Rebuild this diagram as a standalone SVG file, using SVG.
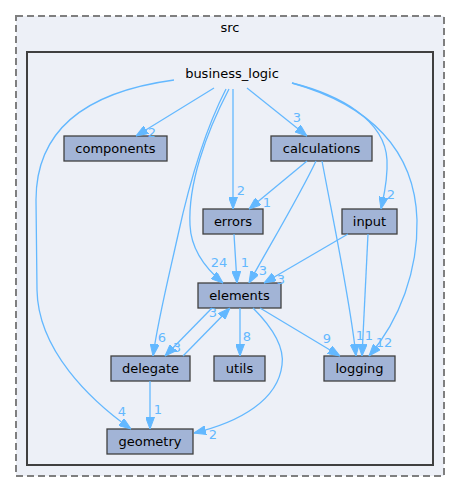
<svg xmlns="http://www.w3.org/2000/svg" width="461" height="492" viewBox="0 0 461 492">
<style>
text{font-family:"DejaVu Sans","Liberation Sans",sans-serif;font-size:13px;text-anchor:middle;fill:#000}
.node rect{fill:#a2b4d6;stroke:#404040;stroke-width:1.3}
.edges path{fill:none;stroke:#63b8ff;stroke-width:1.3;marker-end:url(#ah)}
.edges text{fill:#63b8ff}
</style>
<defs>
<marker id="ah" viewBox="0 0 12 9" refX="12" refY="4.5" markerWidth="12" markerHeight="9" markerUnits="userSpaceOnUse" orient="auto">
<path d="M0,0 L12,4.5 L0,9 z" fill="#63b8ff" stroke="#63b8ff" stroke-width="1"/>
</marker>
</defs>
<rect width="461" height="492" fill="#fff"/>
<g id="cluster_src">
<rect x="16" y="16" width="428" height="460" fill="#edf0f7" stroke="#7f7f7f" stroke-width="2" stroke-dasharray="7,4"/>
<text x="230" y="32">src</text>
</g>
<g id="cluster_business_logic">
<rect x="27" y="52" width="406" height="413" fill="#edf0f7" stroke="#404040" stroke-width="2"/>
<text x="232" y="78">business_logic</text>
</g>
<g id="components" class="node"><rect x="64" y="136" width="103" height="25"/><text x="115.5" y="153">components</text></g>
<g id="calculations" class="node"><rect x="271" y="136" width="101" height="25"/><text x="321.5" y="153">calculations</text></g>
<g id="errors" class="node"><rect x="203" y="209" width="60" height="25"/><text x="233" y="226">errors</text></g>
<g id="input" class="node"><rect x="342" y="209" width="55" height="25"/><text x="369.5" y="226">input</text></g>
<g id="elements" class="node"><rect x="198" y="283" width="83" height="25"/><text x="239.5" y="300">elements</text></g>
<g id="delegate" class="node"><rect x="111" y="356" width="79" height="25"/><text x="150.5" y="373">delegate</text></g>
<g id="utils" class="node"><rect x="214" y="356" width="51" height="25"/><text x="239.5" y="373">utils</text></g>
<g id="logging" class="node"><rect x="324" y="356" width="71" height="25"/><text x="359.5" y="373">logging</text></g>
<g id="geometry" class="node"><rect x="107" y="429" width="86" height="25"/><text x="150" y="446">geometry</text></g>
<g id="connectors" class="edges">
<path d="M214,88 L136,136"/><text x="152" y="137">2</text>
<path d="M174,80 C85,92 36,130 36,200 L37,290 C38,350 90,400 131,429"/><text x="122" y="416">4</text>
<path d="M226,89 C205,130 190,180 178,235 C168,280 158,320 153,356"/><text x="162" y="342">6</text>
<path d="M229,89 C205,135 188,185 190,225 C191,250 205,268 223,283"/><text x="219" y="267">24</text>
<path d="M233,89 L233,209"/><text x="241" y="195">2</text>
<path d="M247,88 L307,136"/><text x="297" y="122">3</text>
<path d="M292,83 C340,95 385,120 387,160 C388,180 384,195 381,209"/><text x="391" y="199">2</text>
<path d="M292,83 C370,105 415,150 417,220 C418,270 400,320 369,356"/><text x="384" y="347">12</text>
<path d="M307,161 L249,209"/><text x="267" y="207">1</text>
<path d="M316,161 C300,195 270,245 249,283"/><text x="263" y="275">3</text>
<path d="M322,161 C335,230 350,300 356,356"/><text x="360" y="340">1</text>
<path d="M234,234 L237,283"/><text x="245" y="267">1</text>
<path d="M348,234 L264,283"/><text x="281" y="284">3</text>
<path d="M368,234 L362,356"/><text x="369" y="340">1</text>
<path d="M212,308 L165,356"/><text x="177" y="352">3</text>
<path d="M183,356 L230,308"/><text x="213" y="317">3</text>
<path d="M240,308 L240,356"/><text x="247" y="341">8</text>
<path d="M260,308 L340,356"/><text x="327" y="343">9</text>
<path d="M253,308 C270,325 285,345 282,365 C278,400 240,422 194,433"/><text x="213" y="439">2</text>
<path d="M150,381 L150,429"/><text x="158" y="414">1</text>
</g>
</svg>
